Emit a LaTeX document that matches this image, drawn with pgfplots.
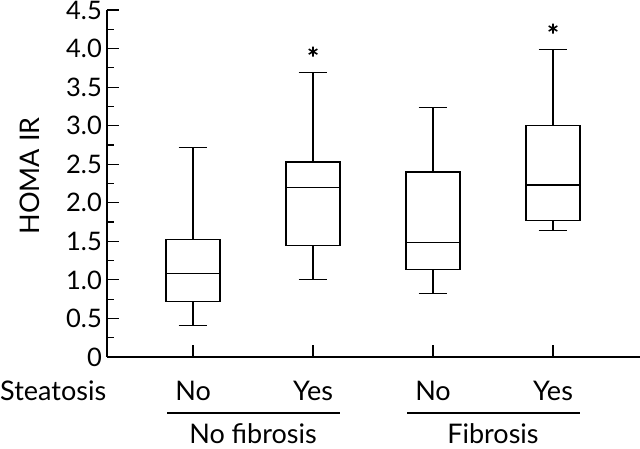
\documentclass[border=0pt]{standalone}
\usepackage{fontspec}
\setmainfont{Lato}
\usepackage{pgfplots}
\pgfplotsset{compat=1.18}
\usepgfplotslibrary{statistics}
\begin{document}
\fontsize{27}{32}\selectfont
\begin{tikzpicture}[font=\fontsize{27}{32}\selectfont]
\path[use as bounding box] (-107pt,-91pt) rectangle (533pt,357pt);
\begin{axis}[
  at={(0pt,0pt)}, anchor=south west,
  width=533pt, height=347pt, scale only axis,
  xmin=0.283, xmax=4.725, ymin=0, ymax=4.5,
  axis x line*=bottom, axis y line*=left,
  axis line style={line width=1.2pt, -},
  every tick/.style={black, line width=1.2pt},
  tick align=inside,
  major tick length=12pt, minor tick length=7pt,
  xtick={1,2,3,4}, xticklabels={No,Yes,No,Yes},
  xticklabel style={anchor=base, yshift=-43pt, inner sep=0pt, font=\fontsize{27}{32}\selectfont},
  ytick={0,0.5,1,1.5,2,2.5,3,3.5,4,4.5},
  yticklabels={0,0.5,1.0,1.5,2.0,2.5,3.0,3.5,4.0,4.5},
  minor ytick={0.25,0.75,1.25,1.75,2.25,2.75,3.25,3.75,4.25},
  yticklabel style={anchor=east, inner sep=0pt, xshift=-5pt, font=\fontsize{25.5}{30}\selectfont},
  clip=false,
  boxplot/draw direction=y,
  boxplot/every median/.style={draw=black, line width=1.2pt},
  boxplot/every box/.style={draw=black, line width=1.2pt},
  boxplot/every whisker/.style={draw=black, line width=1.2pt},
]
\addplot[draw=black, line width=1.2pt, boxplot prepared={lower whisker=0.41, lower quartile=0.72, median=1.08, upper quartile=1.52, upper whisker=2.72, draw position=1, box extend=0.45, whisker extend=0.24}] coordinates {};
\addplot[draw=black, line width=1.2pt, boxplot prepared={lower whisker=1.01, lower quartile=1.45, median=2.20, upper quartile=2.53, upper whisker=3.69, draw position=2, box extend=0.45, whisker extend=0.24}] coordinates {};
\addplot[draw=black, line width=1.2pt, boxplot prepared={lower whisker=0.82, lower quartile=1.13, median=1.48, upper quartile=2.40, upper whisker=3.24, draw position=3, box extend=0.45, whisker extend=0.24}] coordinates {};
\addplot[draw=black, line width=1.2pt, boxplot prepared={lower whisker=1.64, lower quartile=1.77, median=2.23, upper quartile=3.00, upper whisker=3.99, draw position=4, box extend=0.45, whisker extend=0.24}] coordinates {};
\addplot[only marks, black, mark=asterisk, mark size=5pt, line width=1.6pt] coordinates {(2,3.96) (4,4.26)};
\end{axis}
\node[rotate=90, inner sep=0pt] at (-77pt,181pt) {HOMA IR};
\node[anchor=base west, inner sep=0pt] at (-107pt,-43pt) {Steatosis};
\draw[line width=1.2pt] (60pt,-56pt) -- (233pt,-56pt);
\draw[line width=1.2pt] (300pt,-56pt) -- (473pt,-56pt);
\node[anchor=base, inner sep=0pt] at (146pt,-86pt) {No fibrosis};
\node[anchor=base, inner sep=0pt] at (386pt,-86pt) {Fibrosis};
\end{tikzpicture}
\end{document}
